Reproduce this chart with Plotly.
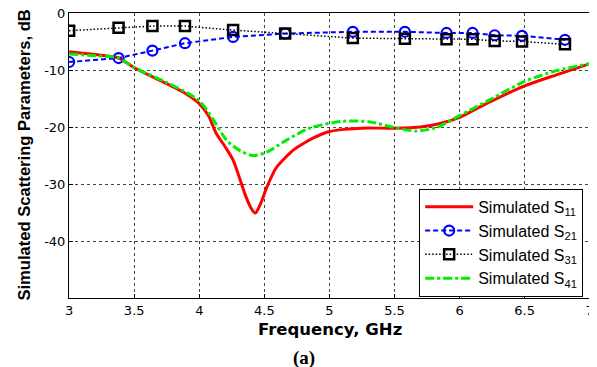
import plotly.graph_objects as go

# S11 (simulated) samples
f_s11 = [3.0, 3.2, 3.38, 3.5, 3.75, 3.9, 4.0, 4.07, 4.13, 4.2, 4.26, 4.31, 4.36, 4.4, 4.43, 4.47, 4.52, 4.59, 4.66, 4.72, 4.8, 4.87, 5.0, 5.12, 5.25, 5.5, 5.7, 5.85, 6.0, 6.12, 6.25, 6.5, 6.75, 7.0]
s11 = [-6.8, -7.3, -7.9, -9.6, -12.4, -14.2, -15.9, -18.0, -21.1, -23.5, -25.8, -29.0, -32.3, -34.3, -35.1, -33.5, -30.5, -27.2, -25.4, -24.1, -22.9, -22.0, -20.8, -20.4, -20.2, -20.2, -20.0, -19.4, -18.3, -16.9, -15.4, -12.8, -10.8, -8.9]

# S41 (simulated) samples
f_s41 = [3.0, 3.2, 3.38, 3.5, 3.75, 4.0, 4.11, 4.21, 4.31, 4.41, 4.52, 4.67, 4.85, 5.1, 5.31, 5.48, 5.67, 5.82, 6.0, 6.25, 6.5, 6.75, 7.0]
s41 = [-7.2, -7.5, -7.9, -9.6, -12.2, -15.4, -18.8, -22.3, -24.1, -25.0, -24.4, -22.3, -20.2, -19.0, -19.1, -20.0, -20.7, -20.1, -18.0, -15.0, -12.0, -10.1, -8.9]

# S21 / S31 marker samples
f_mk = [3.0, 3.38, 3.64, 3.89, 4.26, 4.66, 5.18, 5.58, 5.90, 6.10, 6.27, 6.48, 6.81]
s21 = [-8.6, -7.9, -6.6, -5.3, -4.2, -3.6, -3.3, -3.3, -3.5, -3.5, -3.9, -4.0, -4.7]
s31 = [-3.1, -2.6, -2.3, -2.3, -3.0, -3.6, -4.4, -4.5, -4.6, -4.6, -4.9, -5.0, -5.5]

x_ticks = [3, 3.5, 4, 4.5, 5, 5.5, 6, 6.5, 7]
x_ticklabels = ["3", "3.5", "4", "4.5", "5", "5.5", "6", "6.5", "7"]
y_ticks = [0, -10, -20, -30, -40]
y_ticklabels = ["0", "-10", "-20", "-30", "-40"]

FONT = "Arial, Liberation Sans, sans-serif"
WIDE = "DejaVu Sans, sans-serif"

fig = go.Figure()
fig.add_trace(go.Scatter(x=f_s11, y=s11, mode="lines", name="Simulated S<sub>11</sub>",
                         line=dict(color="#ff0000", width=3, shape="spline", smoothing=0.8)))
fig.add_trace(go.Scatter(x=f_mk, y=s21, mode="lines+markers", name="Simulated S<sub>21</sub>",
                         line=dict(color="#0000ff", width=2, dash="5px,3px"),
                         marker=dict(symbol="circle-open", size=10, color="#0000ff", line=dict(width=2.2))))
fig.add_trace(go.Scatter(x=f_mk, y=s31, mode="lines+markers", name="Simulated S<sub>31</sub>",
                         line=dict(color="#000000", width=1.5, dash="1.5px,2px"),
                         marker=dict(symbol="square-open", size=10, color="#000000", line=dict(width=2.5))))
fig.add_trace(go.Scatter(x=f_s41, y=s41, mode="lines", name="Simulated S<sub>41</sub>",
                         line=dict(color="#00ee00", width=3, dash="9px,3px,3px,3px", shape="spline", smoothing=0.8)))

# page body has an 8px margin: figure is 589x359, offset by 8px
fig.update_layout(
    width=589, height=359,
    margin=dict(l=61, r=6, t=5, b=69, autoexpand=False),
    paper_bgcolor="white", plot_bgcolor="white",
    font=dict(family=FONT, size=13, color="black"),
    showlegend=True,
    legend=dict(x=0.985, y=0.004, xanchor="right", yanchor="bottom",
                bgcolor="white", bordercolor="black", borderwidth=1,
                font=dict(size=16, family=FONT), itemwidth=48, tracegroupgap=0),
    xaxis=dict(range=[2.999, 7.01], tickvals=x_ticks, ticktext=x_ticklabels, automargin=False,
               tickfont=dict(family=WIDE, size=13), ticklabeloverflow="allow",
               showline=True, linecolor="black", linewidth=1, mirror=True,
               ticks="inside", ticklen=4, tickcolor="black",
               showgrid=True, gridcolor="#444444", griddash="dot", gridwidth=1,
               zeroline=False),
    yaxis=dict(range=[-50, 0], tickvals=y_ticks, ticktext=y_ticklabels, automargin=False,
               tickfont=dict(family=WIDE, size=13), ticklabeloverflow="allow",
               showline=True, linecolor="black", linewidth=1, mirror=True,
               ticks="inside", ticklen=4, tickcolor="black",
               showgrid=True, gridcolor="#444444", griddash="dot", gridwidth=1,
               zeroline=False),
)
fig.add_annotation(text="<b>Frequency, GHz</b>", xref="paper", yref="paper", x=0.5, y=-0.112,
                   xanchor="center", yanchor="middle", showarrow=False,
                   font=dict(family=WIDE, size=16.5, color="black"))
fig.add_annotation(text="<b>Simulated Scattering Parameters, dB</b>", xref="paper", yref="paper",
                   x=-0.086, y=0.5, textangle=-90, xanchor="center", yanchor="middle", showarrow=False,
                   font=dict(family=FONT, size=16.6, color="black"))
fig.add_annotation(text="<b>(a)</b>", xref="paper", yref="paper", x=0.451, y=-0.21,
                   xanchor="center", yanchor="middle", showarrow=False,
                   font=dict(family="Liberation Serif, Times New Roman, serif", size=19, color="black"))

fig.write_html("out.html")
